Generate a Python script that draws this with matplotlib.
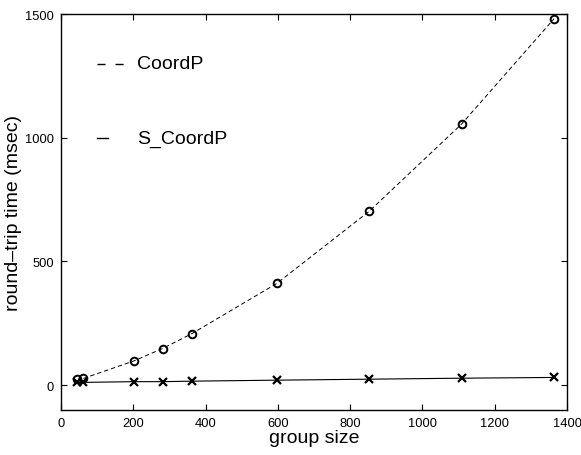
import matplotlib
matplotlib.use("Agg")
import matplotlib.pyplot as plt

plt.rcParams['font.family'] = ['Liberation Sans', 'DejaVu Sans']

# group sizes and measured round-trip times (msec)
group_size = [45, 62, 202, 281, 362, 597, 852, 1108, 1364]
coordp = [23, 27, 98, 148, 208, 411, 702, 1055, 1481]
s_coordp = [11, 11, 14, 14, 16, 20, 24, 28, 31]

fig = plt.figure(figsize=(5.81, 4.56), dpi=100)
ax = fig.add_axes([0.105, 0.099, 0.871, 0.868])

# curves through the points
ax.plot(group_size[1:], coordp[1:], color='k', lw=0.7, dashes=(4.5, 3))
ax.plot(group_size, s_coordp, color='k', lw=0.8)
# markers
ax.plot(group_size, coordp, 'o', mfc='none', mec='k', ms=5.5, mew=1.4)
ax.plot(group_size, s_coordp, 'x', color='k', ms=6, mew=1.6)

# legend drawn by hand, no frame
ax.plot([0.071, 0.126], [0.874, 0.874], transform=ax.transAxes,
        color='k', lw=1.0, dashes=(5.8, 7.2))
ax.text(0.15, 0.874, 'CoordP', transform=ax.transAxes, fontsize=14,
        va='center')
ax.plot([0.071, 0.093], [0.687, 0.687], transform=ax.transAxes,
        color='k', lw=1.0)
ax.text(0.15, 0.687, 'S_CoordP', transform=ax.transAxes, fontsize=14,
        va='center')

ax.set_xlim(0, 1400)
ax.set_ylim(-100, 1500)
ax.set_xticks(range(0, 1401, 200))
ax.set_yticks([0, 500, 1000, 1500])
ax.tick_params(direction='in', top=True, right=True, length=4,
               labelsize=9.3, width=0.8, pad=5)
for s in ax.spines.values():
    s.set_linewidth(1.0)

ax.set_xlabel('group size', fontsize=14, labelpad=0)
ax.set_ylabel('round\u2013trip time (msec)', fontsize=14)
ax.yaxis.set_label_coords(-0.078, 0.5)

fig.savefig('out.png', dpi=100)
